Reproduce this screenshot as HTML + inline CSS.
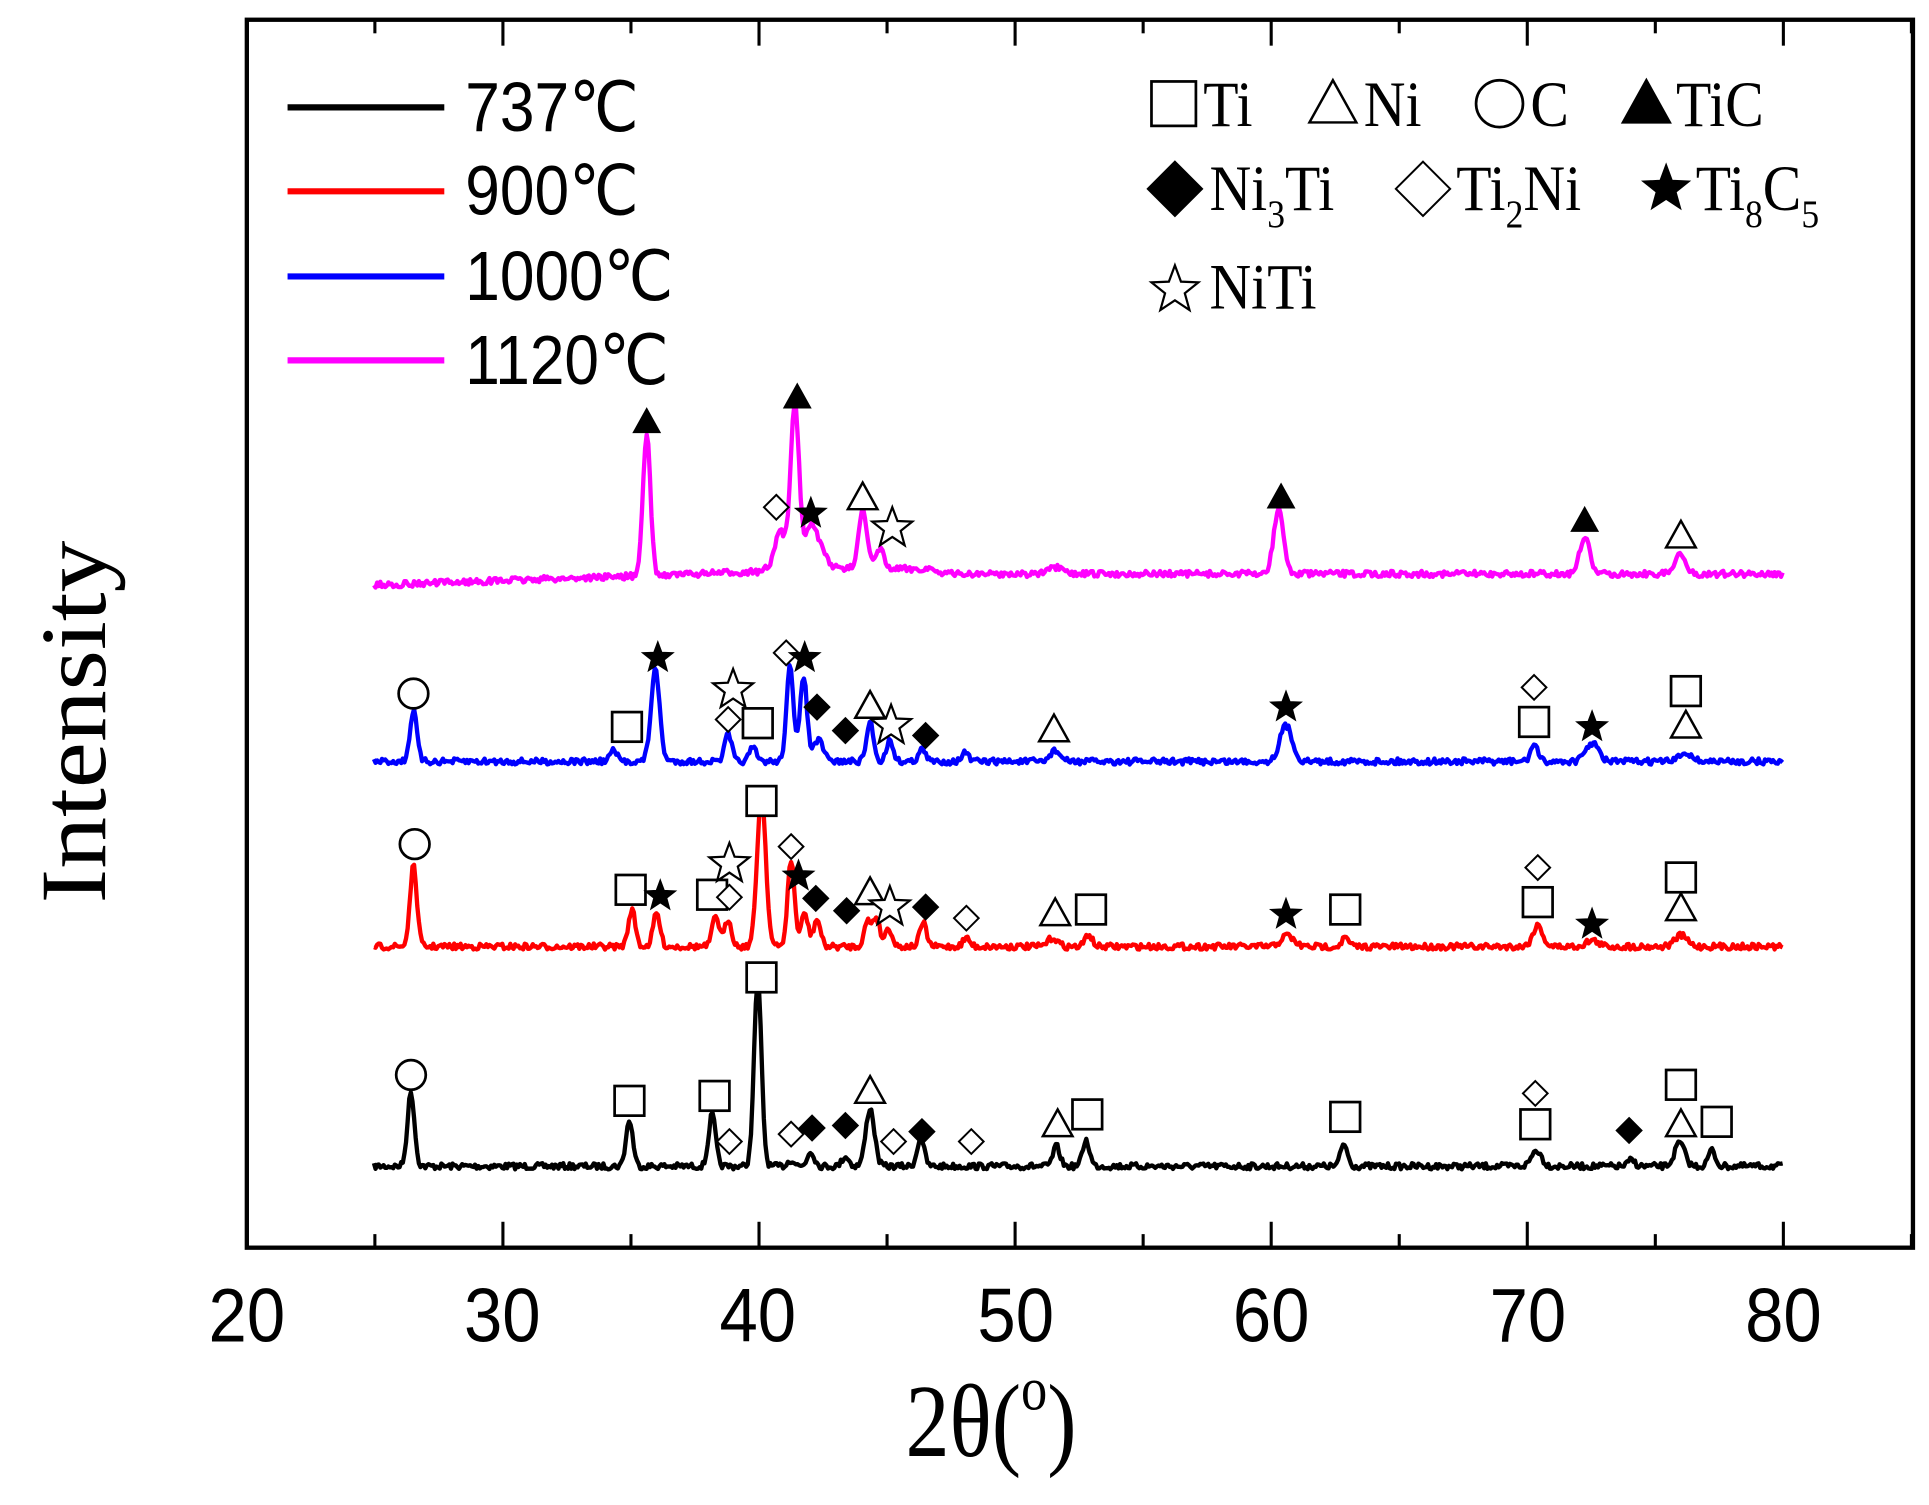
<!DOCTYPE html>
<html><head><meta charset="utf-8"><style>
html,body{margin:0;padding:0;background:#fff}
svg{display:block}
.sans{font-family:"Liberation Sans",Arial,sans-serif}
.serif{font-family:"Liberation Serif","Times New Roman",serif}
</style></head><body>
<svg id="s" width="1929" height="1505" viewBox="0 0 1563 1219.5" preserveAspectRatio="none" xmlns="http://www.w3.org/2000/svg">
<rect x="0" y="0" width="1563" height="1220" fill="#fff"/>
<g id="traces"></g>
<g id="marks"></g>
<rect x="200" y="16" width="1350" height="995" fill="none" stroke="#000" stroke-width="3.5"/>
<g id="ticks" stroke="#000" stroke-width="2.5"></g>
<g class="sans" font-size="62" text-anchor="middle" fill="#000">
<text x="200" y="1087" transform="translate(200,1087) scale(0.9,1) translate(-200,-1087)">20</text>
<text x="407" y="1087" transform="translate(407,1087) scale(0.9,1) translate(-407,-1087)">30</text>
<text x="614" y="1087" transform="translate(614,1087) scale(0.9,1) translate(-614,-1087)">40</text>
<text x="823" y="1087" transform="translate(823,1087) scale(0.9,1) translate(-823,-1087)">50</text>
<text x="1030" y="1087" transform="translate(1030,1087) scale(0.9,1) translate(-1030,-1087)">60</text>
<text x="1238" y="1087" transform="translate(1238,1087) scale(0.9,1) translate(-1238,-1087)">70</text>
<text x="1445" y="1087" transform="translate(1445,1087) scale(0.9,1) translate(-1445,-1087)">80</text>
</g>
<text class="serif" x="803" y="1180" font-size="84" text-anchor="middle" transform="translate(803,1180) scale(0.85,1) translate(-803,-1180)">2θ(<tspan dy="-38" font-size="50">o</tspan><tspan dy="38">)</tspan></text>
<text class="serif" font-size="84" text-anchor="middle" transform="translate(85,585) rotate(-90) scale(1,0.9)">Intensity</text>
<g stroke-width="5">
<line x1="233" y1="87" x2="360" y2="87" stroke="#000"/>
<line x1="233" y1="155" x2="360" y2="155" stroke="#f00"/>
<line x1="233" y1="224" x2="360" y2="224" stroke="#00f"/>
<line x1="233" y1="292" x2="360" y2="292" stroke="#f0f"/>
</g>
<g class="sans" font-size="56" fill="#000">
<text x="377" y="106" transform="translate(377,0) scale(0.9,1) translate(-377,0)">737℃</text>
<text x="377" y="174" transform="translate(377,0) scale(0.9,1) translate(-377,0)">900℃</text>
<text x="377" y="243" transform="translate(377,0) scale(0.9,1) translate(-377,0)">1000℃</text>
<text x="377" y="311" transform="translate(377,0) scale(0.9,1) translate(-377,0)">1120℃</text>
</g>
<g class="serif" font-size="52" fill="#000">
<text x="975" y="102" transform="translate(975,0) scale(0.9,1) translate(-975,0)">Ti</text>
<text x="1105" y="102" transform="translate(1105,0) scale(0.9,1) translate(-1105,0)">Ni</text>
<text x="1240" y="102" transform="translate(1240,0) scale(0.9,1) translate(-1240,0)">C</text>
<text x="1358" y="102" transform="translate(1358,0) scale(0.9,1) translate(-1358,0)">TiC</text>
<text x="980" y="170" transform="translate(980,0) scale(0.9,1) translate(-980,0)">Ni<tspan font-size="32" dy="14">3</tspan><tspan dy="-14">Ti</tspan></text>
<text x="1180" y="170" transform="translate(1180,0) scale(0.9,1) translate(-1180,0)">Ti<tspan font-size="32" dy="14">2</tspan><tspan dy="-14">Ni</tspan></text>
<text x="1374" y="170" transform="translate(1374,0) scale(0.9,1) translate(-1374,0)">Ti<tspan font-size="32" dy="14">8</tspan><tspan dy="-14">C</tspan><tspan font-size="32" dy="14">5</tspan></text>
<text x="980" y="250" transform="translate(980,0) scale(0.9,1) translate(-980,0)">NiTi</text>
</g>
<g id="legm"></g>
</svg>
<script>
var NS="http://www.w3.org/2000/svg";
function el(t,a,p){var e=document.createElementNS(NS,t);for(var k in a)e.setAttribute(k,a[k]);p.appendChild(e);return e;}
var tk=document.getElementById('ticks');
for(var d=20;d<=85;d+=5){var x=200+(d-20)*20.75;var L=(d%10==0)?21:11;
el('line',{x1:x,y1:1011,x2:x,y2:1011-L},tk);el('line',{x1:x,y1:16,x2:x,y2:16+L},tk);}
var seed=7;function rnd(){seed=(seed*16807)%2147483647;return seed/2147483647;}
function trace(base,peaks,col,sig,slope){
 var g=document.getElementById('traces');var d='';
 for(var x=303;x<=1445;x+=1.3){var y=base+(rnd()-0.5)*5;
  if(slope)y+=slope(x);
  for(var i=0;i<peaks.length;i++){var p=peaks[i];var s=p[2]||sig;var dx=x-p[0];
   y-=(base-p[1])*Math.exp(-dx*dx/(2*s*s));}
  d+=(d?'L':'M')+x.toFixed(1)+' '+y.toFixed(1);}
 el('path',{d:d,fill:'none',stroke:col,'stroke-width':3.5,'stroke-linejoin':'round'},g);}
trace(945,[[333,885],[510,908],[577,903],[614,795,3],[641,940],[657,933],[685,937],[705,898,3.5],[746,922],[856,929],[880,924],[1089,927],[1245,932,4],[1322,940],[1361,926,4],[1387,932]],'#000',2.8);
trace(767,[[335,702],[512,737],[532,740],[580,742],[590,745],[617,643,3.5],[641,697],[652,740],[662,745],[703,747],[710,744],[720,752],[748,748],[783,760],[853,760,4],[882,757],[1043,758,5],[1090,760],[1246,750,4],[1290,762,5],[1362,758,5]],'#f00',2.8);
trace(617,[[335,576],[497,608],[531,543,3.5],[590,595],[610,606],[640,540],[651,547],[663,600,4],[705,585],[721,600],[747,607],[782,610],[855,608,4],[1042,588,5],[1243,603],[1290,602,5],[1366,610,5]],'#00f',2.8);
trace(467,[[524,352,3],[632,437,4],[644,333,3.5],[656,440,4],[663,448,6],[699,420,3.5],[713,450],[855,462,5],[1036,415,4],[1284,437,4],[1361,450,4]],'#f0f',3,function(x){return x<620?(620-x)*0.035-4:(x<760?-6:-2);});
var M=document.getElementById('marks');
function sq(x,y,s){s=s||12;el('rect',{x:x-s,y:y-s,width:2*s,height:2*s,fill:'#fff',stroke:'#000','stroke-width':2.2},M);}
function tri(x,y,f,s){s=s||12;el('polygon',{points:(x)+','+(y-s)+' '+(x+s)+','+(y+s*0.8)+' '+(x-s)+','+(y+s*0.8),fill:f?'#000':'#fff',stroke:'#000','stroke-width':2},M);}
function cir(x,y,r){el('circle',{cx:x,cy:y,r:r||12,fill:'#fff',stroke:'#000','stroke-width':2.2},M);}
function dia(x,y,f,s){s=s||10;el('polygon',{points:x+','+(y-s)+' '+(x+s)+','+y+' '+x+','+(y+s)+' '+(x-s)+','+y,fill:f?'#000':'#fff',stroke:'#000','stroke-width':1.6},M);}
function star(x,y,f,R){R=R||13;var r=R*0.42,p=[];for(var i=0;i<10;i++){var a=-Math.PI/2+i*Math.PI/5;var q=i%2?r:R;p.push((x+q*Math.cos(a)).toFixed(1)+','+(y+q*Math.sin(a)).toFixed(1));}
 el('polygon',{points:p.join(' '),fill:f?'#000':'#fff',stroke:'#000','stroke-width':f?1:1.8},M);}
// black
cir(333,871);sq(510,892);sq(579,888);dia(591,925);sq(617,792);dia(641,919);dia(658,914,1);dia(685,912,1);tri(705,884);dia(724,925);dia(747,917,1);dia(787,925);tri(857,911);sq(881,903);sq(1090,905);dia(1244,886);sq(1244,911);dia(1320,916,1);sq(1362,879);tri(1362,911);sq(1391,909);
// red
cir(336,684);sq(511,721);star(535,726,1);sq(577,725);dia(591,727);star(591,700,0,17);sq(617,649);dia(641,686);star(647,710,1);dia(661,728,1);dia(686,738,1);tri(705,723);star(721,735,0,17);dia(750,735,1);dia(783,744);tri(855,740);sq(884,737);star(1042,741,1);sq(1090,737);dia(1246,703);sq(1246,731);star(1290,749,1);sq(1362,711);tri(1362,736);
// blue
cir(335,562);sq(508,589);star(533,533,1);dia(590,583);star(594,559,0,17);sq(614,586);dia(637,529);star(652,533,1);dia(662,573,1);dia(685,592,1);tri(705,572);star(722,588,0,17);dia(750,596,1);tri(854,591);star(1042,573,1);dia(1243,557);sq(1243,585);star(1290,589,1);sq(1366,560);tri(1366,588);
// magenta
tri(524,342,1,10);tri(646,322,1,10);dia(629,411);star(657,416,1);tri(699,403);star(723,428,0,17);tri(1038,403,1,10);tri(1284,422,1,10);tri(1362,434);
// legend symbols
sq(951,84,18);tri(1080,84,0,19);cir(1215,84,19);tri(1334,84,1,19);dia(952,153,1,22);dia(1153,153,0,22);star(1350,153,1,20);star(952,235,0,20);
</script>
</body></html>
